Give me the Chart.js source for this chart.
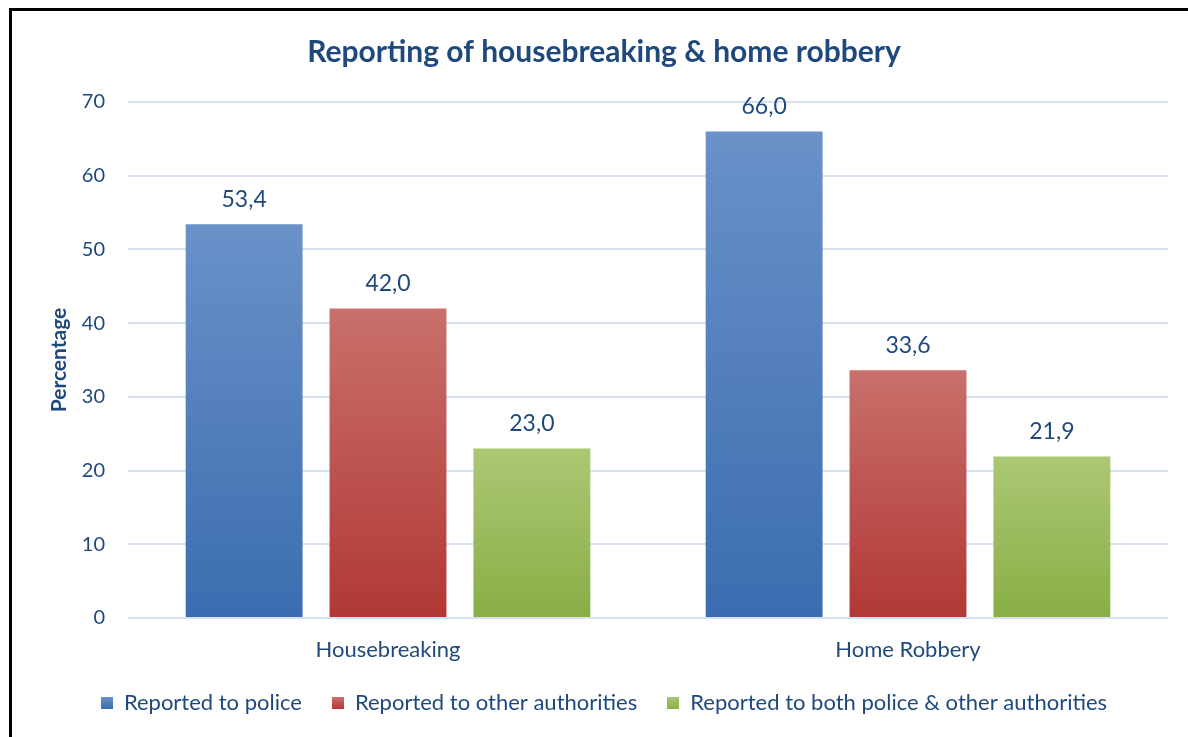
<!DOCTYPE html>
<html>
<head>
<meta charset="utf-8">
<script src="https://cdn.jsdelivr.net/npm/chart.js@4.4.1/dist/chart.umd.min.js"></script>
<style>
  html, body { margin: 0; padding: 0; background: #fff; overflow: hidden; }
  #wrap { position: relative; width: 1188px; height: 737px; }
  #frame {
    position: absolute; left: 9px; top: 8px; width: 1300px; height: 900px;
    border-top: 3px solid #000; border-left: 3px solid #000; pointer-events: none;
  }
  canvas { position: absolute; left: 0; top: 0; }
</style>
</head>
<body>
<div id="wrap">
  <canvas id="chart" width="1188" height="737"></canvas>
  <div id="frame"></div>
</div>
<script>
// Survey figures: share of incidents reported, by crime type
const categories = ['Housebreaking', 'Home Robbery'];
const seriesNames = [
  'Reported to police',
  'Reported to other authorities',
  'Reported to both police & other authorities'
];
const reportedToPolice = [53.4, 66.0];
const reportedToOther = [42.0, 33.6];
const reportedToBoth = [23.0, 21.9];
const yTicks = [0, 10, 20, 30, 40, 50, 60, 70];

const TEXT = '#1F497D';
const FONT = 'Lato, "DejaVu Sans", sans-serif';

// light-to-dark vertical fill for each series
const shades = [
  ['#6A91C8', '#3A6DB0'],
  ['#C9706C', '#B13835'],
  ['#ABC874', '#89AE45']
];

function barFill(series) {
  return function (ctx) {
    const chart = ctx.chart;
    const y = chart.scales && chart.scales.y;
    if (!y || ctx.type !== 'data') return shades[series][1];
    const top = y.getPixelForValue(ctx.raw);
    const base = y.getPixelForValue(0);
    if (!isFinite(top) || !isFinite(base) || top === base) return shades[series][1];
    const g = chart.ctx.createLinearGradient(0, top, 0, base);
    g.addColorStop(0, shades[series][0]);
    g.addColorStop(1, shades[series][1]);
    return g;
  };
}

function legendSwatch(series) {
  const c = document.createElement('canvas');
  c.width = 12; c.height = 12;
  const x = c.getContext('2d');
  const g = x.createLinearGradient(0, 0, 0, 12);
  g.addColorStop(0, shades[series][0]);
  g.addColorStop(1, shades[series][1]);
  x.fillStyle = g;
  x.fillRect(0, 0, 12, 12);
  return c;
}

const fmt = v => v.toFixed(1).replace('.', ',');

// value labels above each bar
const valueLabels = {
  id: 'valueLabels',
  afterDatasetsDraw(chart) {
    const ctx = chart.ctx;
    ctx.save();
    ctx.font = '23px ' + FONT;
    ctx.fillStyle = TEXT;
    ctx.textAlign = 'center';
    ctx.textBaseline = 'middle';
    chart.data.datasets.forEach((ds, i) => {
      chart.getDatasetMeta(i).data.forEach((bar, j) => {
        ctx.fillText(fmt(ds.data[j]), bar.x, bar.y - 25);
      });
    });
    ctx.restore();
  }
};

const seriesValues = [reportedToPolice, reportedToOther, reportedToBoth];

new Chart(document.getElementById('chart'), {
  type: 'bar',
  data: {
    labels: categories,
    datasets: seriesNames.map((name, i) => ({
      label: name,
      data: seriesValues[i],
      backgroundColor: barFill(i),
      borderWidth: 0,
      categoryPercentage: 0.83,
      barPercentage: 0.8125
    }))
  },
  options: {
    responsive: false,
    animation: false,
    layout: { padding: { left: 40, right: 20, top: 22, bottom: 13 } },
    plugins: {
      title: {
        display: true,
        text: 'Reporting of housebreaking & home robbery',
        color: TEXT,
        font: { family: FONT, size: 30, weight: 'bold' },
        padding: { top: 12, bottom: 32 }
      },
      legend: {
        position: 'bottom',
        labels: {
          color: TEXT,
          font: { family: FONT, size: 22 },
          boxWidth: 12,
          boxHeight: 12,
          padding: 30,
          usePointStyle: true,
          generateLabels(chart) {
            return chart.data.datasets.map((ds, i) => ({
              text: ds.label,
              fontColor: TEXT,
              pointStyle: legendSwatch(i),
              datasetIndex: i,
              lineWidth: 0,
              strokeStyle: 'transparent',
              fillStyle: shades[i][1]
            }));
          }
        }
      },
      tooltip: { enabled: false }
    },
    scales: {
      x: {
        grid: { display: false },
        border: { display: false },
        ticks: { color: TEXT, font: { family: FONT, size: 22 }, padding: 11 },
        afterFit(axis) { axis.height = 44; }
      },
      y: {
        min: 0,
        max: 70,
        afterBuildTicks(axis) { axis.ticks = yTicks.map(v => ({ value: v })); },
        afterFit(axis) { axis.width = 88; },
        grid: { color: '#D6E2F2', lineWidth: 2, drawTicks: false },
        border: { display: false },
        ticks: { color: TEXT, font: { family: FONT, size: 20 }, padding: 23 },
        title: {
          display: true,
          text: 'Percentage',
          color: TEXT,
          font: { family: FONT, size: 21, weight: 'bold' },
          padding: { top: 7, bottom: 0 }
        }
      }
    }
  },
  plugins: [valueLabels]
});
</script>
</body>
</html>
